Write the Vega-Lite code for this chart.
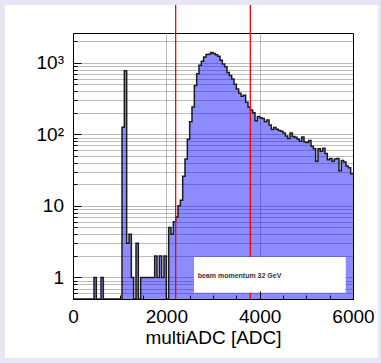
{
  "$schema": "https://vega.github.io/schema/vega-lite/v6.json",
  "width": 280,
  "height": 266,
  "autosize": {"type": "none"},
  "padding": {"left": 73, "top": 33, "right": 28, "bottom": 64},
  "background": "white",
  "config": {
    "view": {"stroke": "black", "strokeWidth": 1},
    "axis": {"labelFont": "Liberation Sans", "titleFont": "Liberation Sans", "labelColor": "black", "titleColor": "black", "tickColor": "black", "domainColor": "black"}
  },
  "datasets": {
    "hist": [
      {"adc": 0, "entries": 0.5}, {"adc": 50, "entries": 0.5}, {"adc": 100, "entries": 0.5}, {"adc": 150, "entries": 0.5},
      {"adc": 200, "entries": 0.5}, {"adc": 250, "entries": 0.5}, {"adc": 300, "entries": 0.5}, {"adc": 350, "entries": 0.5},
      {"adc": 400, "entries": 0.5}, {"adc": 450, "entries": 1}, {"adc": 500, "entries": 0.5}, {"adc": 550, "entries": 0.5},
      {"adc": 600, "entries": 1}, {"adc": 650, "entries": 0.5}, {"adc": 700, "entries": 0.5}, {"adc": 750, "entries": 0.5},
      {"adc": 800, "entries": 0.5}, {"adc": 850, "entries": 0.5}, {"adc": 900, "entries": 0.5}, {"adc": 950, "entries": 0.5},
      {"adc": 1000, "entries": 0.5}, {"adc": 1050, "entries": 125}, {"adc": 1100, "entries": 770}, {"adc": 1150, "entries": 3},
      {"adc": 1200, "entries": 4}, {"adc": 1250, "entries": 1}, {"adc": 1300, "entries": 0.5}, {"adc": 1350, "entries": 3},
      {"adc": 1400, "entries": 0.5}, {"adc": 1450, "entries": 1}, {"adc": 1500, "entries": 1}, {"adc": 1550, "entries": 1},
      {"adc": 1600, "entries": 1}, {"adc": 1650, "entries": 1}, {"adc": 1700, "entries": 1}, {"adc": 1750, "entries": 2},
      {"adc": 1800, "entries": 1}, {"adc": 1850, "entries": 2}, {"adc": 1900, "entries": 1}, {"adc": 1950, "entries": 2},
      {"adc": 2000, "entries": 0.5}, {"adc": 2050, "entries": 5}, {"adc": 2100, "entries": 4}, {"adc": 2150, "entries": 6},
      {"adc": 2200, "entries": 7}, {"adc": 2250, "entries": 10}, {"adc": 2300, "entries": 12}, {"adc": 2350, "entries": 26},
      {"adc": 2400, "entries": 45}, {"adc": 2450, "entries": 85}, {"adc": 2500, "entries": 150}, {"adc": 2550, "entries": 240},
      {"adc": 2600, "entries": 480}, {"adc": 2650, "entries": 700}, {"adc": 2700, "entries": 920}, {"adc": 2750, "entries": 1050},
      {"adc": 2800, "entries": 1200}, {"adc": 2850, "entries": 1300}, {"adc": 2900, "entries": 1310}, {"adc": 2950, "entries": 1390},
      {"adc": 3000, "entries": 1350}, {"adc": 3050, "entries": 1290}, {"adc": 3100, "entries": 1230}, {"adc": 3150, "entries": 1080},
      {"adc": 3200, "entries": 960}, {"adc": 3250, "entries": 880}, {"adc": 3300, "entries": 730}, {"adc": 3350, "entries": 660},
      {"adc": 3400, "entries": 590}, {"adc": 3450, "entries": 500}, {"adc": 3500, "entries": 430}, {"adc": 3550, "entries": 375},
      {"adc": 3600, "entries": 340}, {"adc": 3650, "entries": 352}, {"adc": 3700, "entries": 280}, {"adc": 3750, "entries": 240},
      {"adc": 3800, "entries": 218}, {"adc": 3850, "entries": 200}, {"adc": 3900, "entries": 155}, {"adc": 3950, "entries": 177},
      {"adc": 4000, "entries": 170}, {"adc": 4050, "entries": 166}, {"adc": 4100, "entries": 150}, {"adc": 4150, "entries": 158},
      {"adc": 4200, "entries": 135}, {"adc": 4250, "entries": 117}, {"adc": 4300, "entries": 124}, {"adc": 4350, "entries": 118},
      {"adc": 4400, "entries": 113}, {"adc": 4450, "entries": 110}, {"adc": 4500, "entries": 104}, {"adc": 4550, "entries": 95},
      {"adc": 4600, "entries": 87}, {"adc": 4650, "entries": 104}, {"adc": 4700, "entries": 93}, {"adc": 4750, "entries": 91},
      {"adc": 4800, "entries": 86}, {"adc": 4850, "entries": 80}, {"adc": 4900, "entries": 92}, {"adc": 4950, "entries": 78},
      {"adc": 5000, "entries": 77}, {"adc": 5050, "entries": 82}, {"adc": 5100, "entries": 68}, {"adc": 5150, "entries": 63},
      {"adc": 5200, "entries": 42}, {"adc": 5250, "entries": 63}, {"adc": 5300, "entries": 58}, {"adc": 5350, "entries": 64},
      {"adc": 5400, "entries": 54}, {"adc": 5450, "entries": 44}, {"adc": 5500, "entries": 46}, {"adc": 5550, "entries": 42},
      {"adc": 5600, "entries": 45}, {"adc": 5650, "entries": 46}, {"adc": 5700, "entries": 31}, {"adc": 5750, "entries": 43},
      {"adc": 5800, "entries": 41}, {"adc": 5850, "entries": 36}, {"adc": 5900, "entries": 34}, {"adc": 5950, "entries": 28},
      {"adc": 6000, "entries": 28}
    ],
    "cuts": [{"cut": 2200}, {"cut": 3800}],
    "note": [{"label": "beam momentum 32 GeV"}]
  },
  "layer": [
    {
      "data": {"name": "hist"},
      "mark": {
        "type": "area",
        "interpolate": "step-after",
        "color": "#0000ff",
        "fillOpacity": 0.45,
        "line": {"color": "#1c1c1c", "strokeWidth": 1.5}
      },
      "encoding": {
        "x": {
          "field": "adc", "type": "quantitative",
          "scale": {"domain": [0, 6000], "nice": false, "zero": false},
          "axis": {
            "orient": "bottom", "values": [0, 2000, 4000, 6000], "format": "d", "tickSize": -8, "tickWidth": 1,
            "labelFontSize": 19, "labelPadding": 16, "labelFlush": false, "labelOverlap": false,
            "title": "multiADC [ADC]", "titleFontSize": 19, "titleFontWeight": "normal", "titlePadding": 2,
            "grid": false, "domain": true, "zindex": 1
          }
        },
        "y": {
          "field": "entries", "type": "quantitative",
          "scale": {"type": "log", "domain": [0.5, 2600], "nice": false},
          "axis": {
            "orient": "left", "values": [1, 10, 100, 1000], "tickSize": -8, "tickWidth": 1,
            "labelFontSize": 19, "labelPadding": 17.5, "labelOverlap": false,
            "labelExpr": "datum.value == 1000 ? '10³' : datum.value == 100 ? '10²' : datum.value == 10 ? '10' : '1'",
            "title": null, "grid": false, "domain": true, "zindex": 1
          }
        },
        "y2": {"datum": 0.5}
      }
    },
    {
      "data": {"name": "cuts"},
      "mark": {"type": "rule", "color": "#ff0000", "strokeWidth": 1.3, "clip": false},
      "encoding": {
        "x": {
          "field": "cut", "type": "quantitative",
          "scale": {"domain": [0, 6000], "nice": false, "zero": false},
          "axis": {
            "orient": "bottom",
            "values": [0, 500, 1000, 1500, 2000, 2500, 3000, 3500, 4000, 4500, 5000, 5500, 6000],
            "tickSize": -4, "tickWidth": 1, "labels": false, "domain": false, "title": null,
            "grid": true, "gridColor": "#7a7a7a", "gridDash": [1, 1], "gridWidth": 1,
            "gridOpacity": {"condition": {"test": "datum.value == 2000 || datum.value == 4000", "value": 1}, "value": 0},
            "zindex": 0
          }
        },
        "y": {
          "datum": 0.5, "type": "quantitative",
          "scale": {"type": "log", "domain": [0.5, 2600], "nice": false},
          "axis": {
            "orient": "left",
            "values": [0.6, 0.7, 0.8, 0.9, 1, 2, 3, 4, 5, 6, 7, 8, 9, 10, 20, 30, 40, 50, 60, 70, 80, 90, 100, 200, 300, 400, 500, 600, 700, 800, 900, 1000, 2000],
            "tickSize": -4, "tickWidth": 1, "labels": false, "domain": false, "title": null,
            "grid": true, "gridColor": "#7a7a7a", "gridDash": [1, 1], "gridWidth": 1,
            "zindex": 0
          }
        },
        "y2": {"datum": 6400}
      }
    },
    {
      "data": {"name": "note"},
      "mark": {"type": "rect", "fill": "white", "clip": false},
      "encoding": {
        "x": {"datum": 2593, "type": "quantitative", "axis": null},
        "x2": {"datum": 5844},
        "y": {"datum": 0.612, "type": "quantitative", "scale": {"type": "log", "domain": [0.5, 2600], "nice": false}, "axis": null},
        "y2": {"datum": 1.93}
      }
    },
    {
      "data": {"name": "note"},
      "mark": {"type": "text", "align": "left", "baseline": "middle", "font": "Liberation Sans", "fontWeight": "bold", "fontSize": 7, "color": "#333333", "clip": false},
      "encoding": {
        "x": {"datum": 2672, "type": "quantitative", "axis": null},
        "y": {"datum": 1.047, "type": "quantitative", "scale": {"type": "log", "domain": [0.5, 2600], "nice": false}, "axis": null},
        "text": {"field": "label"}
      }
    },
    {
      "data": {"values": [{}]},
      "mark": {"type": "rect", "filled": false, "stroke": "#e6e6f5", "strokeWidth": 10, "clip": false},
      "encoding": {
        "x": {"datum": -1564, "type": "quantitative", "axis": null},
        "x2": {"datum": 6643},
        "y": {"datum": 0.0638, "type": "quantitative", "scale": {"type": "log", "domain": [0.5, 2600], "nice": false}, "axis": null},
        "y2": {"datum": 7516}
      }
    }
  ],
  "resolve": {"axis": {"x": "independent", "y": "independent"}}
}
